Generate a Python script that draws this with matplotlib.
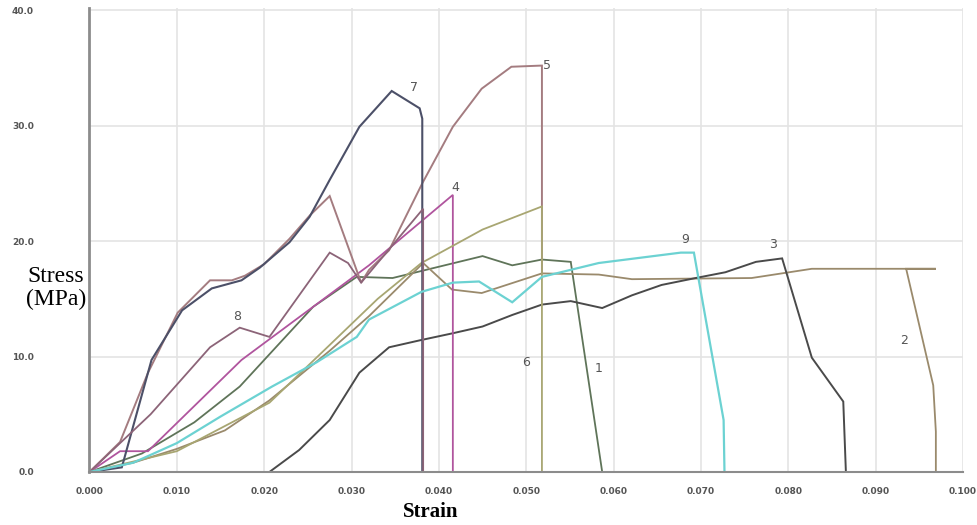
import matplotlib.pyplot as plt

# strain / stress readings for each specimen
strain_1 = [0.0, 0.0060, 0.0120, 0.0172, 0.0256, 0.0306, 0.0347, 0.0450, 0.0484, 0.0518, 0.0551, 0.0587]
stress_1 = [0.0, 1.6, 4.3, 7.4, 14.3, 16.9, 16.8, 18.7, 17.9, 18.4, 18.2, 0.0]

strain_2 = [0.0, 0.0050, 0.0100, 0.0155, 0.0206, 0.0275, 0.0320, 0.0382, 0.0415, 0.0449, 0.0518,
            0.0583, 0.0621, 0.0758, 0.0827, 0.0969, 0.0935, 0.0966, 0.0969, 0.0969]
stress_2 = [0.0, 0.8, 2.0, 3.6, 6.2, 10.5, 13.5, 18.1, 15.8, 15.5, 17.2,
            17.1, 16.7, 16.8, 17.6, 17.6, 17.6, 7.5, 3.5, 0.0]

strain_3 = [0.0172, 0.0206, 0.0240, 0.0275, 0.0309, 0.0343, 0.0378, 0.0415, 0.0450, 0.0484, 0.0518,
            0.0551, 0.0587, 0.0621, 0.0655, 0.0694, 0.0728, 0.0763, 0.0793, 0.0827, 0.0863, 0.0866]
stress_3 = [0.0, 0.0, 1.9, 4.5, 8.6, 10.8, 11.4, 12.0, 12.6, 13.6, 14.5,
            14.8, 14.2, 15.3, 16.2, 16.8, 17.3, 18.2, 18.5, 9.9, 6.1, 0.0]

strain_4 = [0.0, 0.0035, 0.0067, 0.0174, 0.0320, 0.0416, 0.0416]
stress_4 = [0.0, 1.8, 1.8, 9.7, 17.9, 24.0, 0.0]

strain_5 = [0.0, 0.0035, 0.0067, 0.0101, 0.0138, 0.0163, 0.0178, 0.0200, 0.0229, 0.0252, 0.0275,
            0.0311, 0.0320, 0.0343, 0.0381, 0.0416, 0.0449, 0.0483, 0.0517, 0.0518, 0.0518]
stress_5 = [0.0, 2.6, 8.6, 13.8, 16.6, 16.6, 17.0, 18.0, 20.2, 22.2, 23.9,
            16.4, 17.5, 19.2, 25.0, 29.9, 33.2, 35.1, 35.2, 35.2, 17.2]

strain_6 = [0.0, 0.0100, 0.0206, 0.0275, 0.0330, 0.0380, 0.0450, 0.0518, 0.0518]
stress_6 = [0.0, 1.8, 6.0, 11.0, 15.0, 18.1, 21.0, 23.0, 0.0]

strain_7 = [0.0, 0.0037, 0.0071, 0.0106, 0.0140, 0.0174, 0.0195, 0.0229, 0.0252, 0.0275, 0.0309,
            0.0346, 0.0378, 0.0381, 0.0381]
stress_7 = [0.0, 0.4, 9.7, 14.0, 15.9, 16.6, 17.7, 19.9, 22.1, 25.3, 29.9,
            33.0, 31.5, 30.6, 0.0]

strain_8 = [0.0, 0.0070, 0.0138, 0.0172, 0.0206, 0.0275, 0.0296, 0.0311, 0.0382, 0.0382]
stress_8 = [0.0, 5.0, 10.8, 12.5, 11.7, 19.0, 18.1, 16.4, 22.8, 0.0]

strain_9 = [0.0, 0.0050, 0.0100, 0.0150, 0.0209, 0.0260, 0.0306, 0.0320, 0.0380, 0.0416, 0.0446,
            0.0484, 0.0518, 0.0583, 0.0677, 0.0692, 0.0726, 0.0727]
stress_9 = [0.0, 0.8, 2.5, 4.8, 7.4, 9.5, 11.7, 13.2, 15.6, 16.4, 16.5,
            14.7, 16.9, 18.1, 19.0, 19.0, 4.5, 0.0]

specimens = [
    (strain_1, stress_1, '#5f7459', 1.3, '1', (0.0583, 9.0)),
    (strain_2, stress_2, '#9a8a6c', 1.3, '2', (0.0933, 11.4)),
    (strain_3, stress_3, '#4a4a4a', 1.4, '3', (0.0783, 19.7)),
    (strain_4, stress_4, '#b0559e', 1.3, '4', (0.0419, 24.6)),
    (strain_5, stress_5, '#a47c80', 1.4, '5', (0.0524, 35.2)),
    (strain_6, stress_6, '#a8a672', 1.3, '6', (0.0500, 9.5)),
    (strain_7, stress_7, '#4c5068', 1.5, '7', (0.0372, 33.3)),
    (strain_8, stress_8, '#8c6478', 1.3, '8', (0.0169, 13.5)),
    (strain_9, stress_9, '#6cd2d2', 1.6, '9', (0.0682, 20.1)),
]

fig = plt.figure(figsize=(9.77, 5.25), dpi=100)
ax = fig.add_axes([0.0916, 0.101, 0.894, 0.884])

for xs, ys, col, w, name, pos in specimens:
    ax.plot(xs, ys, color=col, lw=w, solid_joinstyle='miter')
    ax.text(pos[0], pos[1], name, color='#555555', fontsize=9, ha='center', va='center')

ax.set_xlim(0, 0.1)
ax.set_ylim(0, 40.2)
ax.set_xticks([i / 100 for i in range(11)])
ax.set_xticklabels(['%.3f' % (i / 100) for i in range(11)])
ax.set_yticks([0, 10, 20, 30, 40])
ax.set_yticklabels(['0.0', '10.0', '20.0', '30.0', '40.0'])
ax.tick_params(axis='both', length=0, labelsize=6.5, labelcolor='#555555')
ax.tick_params(axis='x', pad=11)
ax.tick_params(axis='y', pad=40)
for lab in ax.get_xticklabels() + ax.get_yticklabels():
    lab.set_fontweight('bold')

ax.grid(True, color='#e4e4e4', lw=1.2)
ax.set_axisbelow(True)
for side in ['top', 'right']:
    ax.spines[side].set_visible(False)
ax.spines['left'].set_color('#8c8c8c')
ax.spines['left'].set_linewidth(2.0)
ax.spines['bottom'].set_color('#8c8c8c')
ax.spines['bottom'].set_linewidth(1.5)

fig.text(0.057, 0.452, 'Stress\n(MPa)', family='Liberation Serif', fontsize=17,
         ha='center', va='center', linespacing=1.1)
fig.text(0.441, 0.024, 'Strain', family='Liberation Serif', fontsize=15,
         fontweight='bold', ha='center', va='center')

fig.savefig('out.png', dpi=100)
